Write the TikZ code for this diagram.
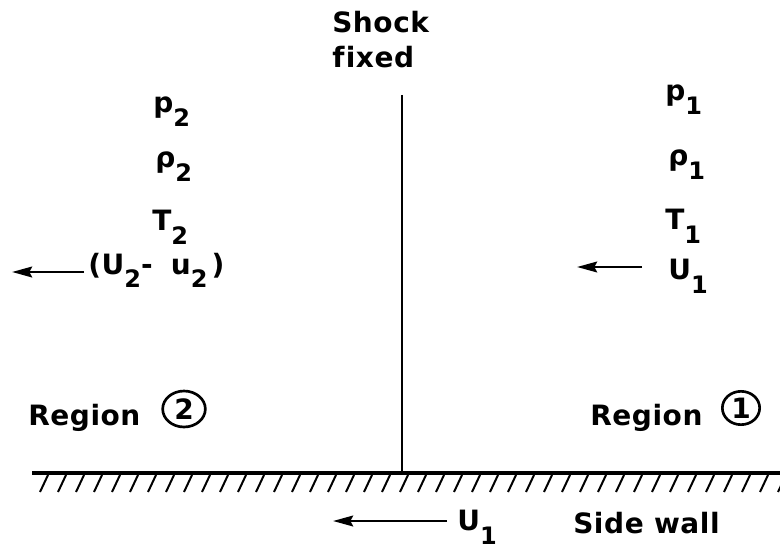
\documentclass[tikz,border=0pt]{standalone}
\usepackage{fontspec}
\setmainfont{DejaVu Sans}[LetterSpace=2,Ligatures=NoCommon]
\usetikzlibrary{arrows.meta,shapes.geometric}
\newcommand\lsub[1]{\raisebox{-10pt}{\fontsize{18}{18}\selectfont\bfseries #1}}
\tikzset{
  lbl/.style={inner sep=0pt, anchor=north west, font=\fontsize{21}{25}\selectfont\bfseries},
  ring/.style={ellipse, draw, line width=2pt, inner sep=0pt, font=\fontsize{21}{25}\selectfont\bfseries},
  flow/.style={line width=2.2pt, -{Stealth[length=15pt,width=8pt,inset=2pt]}},
  wall/.style={line width=3.4pt},
  hatch/.style={line width=1.5pt},
  shockline/.style={line width=2.2pt}
}
\begin{document}
\begin{tikzpicture}[x=0.75pt,y=-0.75pt]
\useasboundingbox (0,0) rectangle (780,552);
% shock label
\node[lbl, anchor=base west] (shock) at (332,33) {Shock};
\node[lbl, anchor=base west] (fixed) at (332,68) {f\kern1pt ixed};
% shock line and wall
\coordinate (shocktop) at (402,95);
\coordinate (shockfoot) at (402,473);
\coordinate (wallL) at (32,473);
\coordinate (wallR) at (780,473);
\draw[shockline] (shocktop) -- (shockfoot);
\draw[wall] (wallL) -- (wallR);
\foreach \x in {40,58,...,780}{
  \draw[hatch] (\x,492) -- (\x+8,475);
}
% region 2
\node[lbl] (p2) at (153,97) {p\lsub{2}};
\node[lbl] (rho2) at (155,152) {ρ\lsub{2}};
\node[lbl] (T2) at (152,210) {T\lsub{2}};
\node[lbl] (U2) at (88,253) {(U\lsub{2}-\hspace{6pt} u\lsub{2}\hspace{3pt})};
\coordinate (a2s) at (84,272);
\coordinate (a2e) at (12,272);
\draw[flow] (a2s) -- (a2e);
% region 1
\node[lbl] (p1) at (665,85) {p\lsub{1}};
\node[lbl] (rho1) at (668,150) {ρ\lsub{1}};
\node[lbl] (T1) at (665,209) {T\lsub{1}};
\node[lbl] (U1) at (668,259) {U\lsub{1}};
\coordinate (a1s) at (642,267);
\coordinate (a1e) at (577,267);
\draw[flow] (a1s) -- (a1e);
% region labels
\node[lbl] (reg2) at (28,404) {Region};
\node[ring, minimum width=32pt, minimum height=27pt] (c2) at (184,409) {2};
\node[lbl] (reg1) at (590,404) {Region};
\node[ring, minimum width=28pt, minimum height=25pt] (c1) at (741,408) {1};
% bottom
\node[lbl] (Uw) at (457,510) {U\lsub{1}};
\coordinate (a3s) at (447,521);
\coordinate (a3e) at (333,521);
\draw[flow] (a3s) -- (a3e);
\node[lbl] (side) at (573,512) {Side wall};
\end{tikzpicture}
\end{document}
